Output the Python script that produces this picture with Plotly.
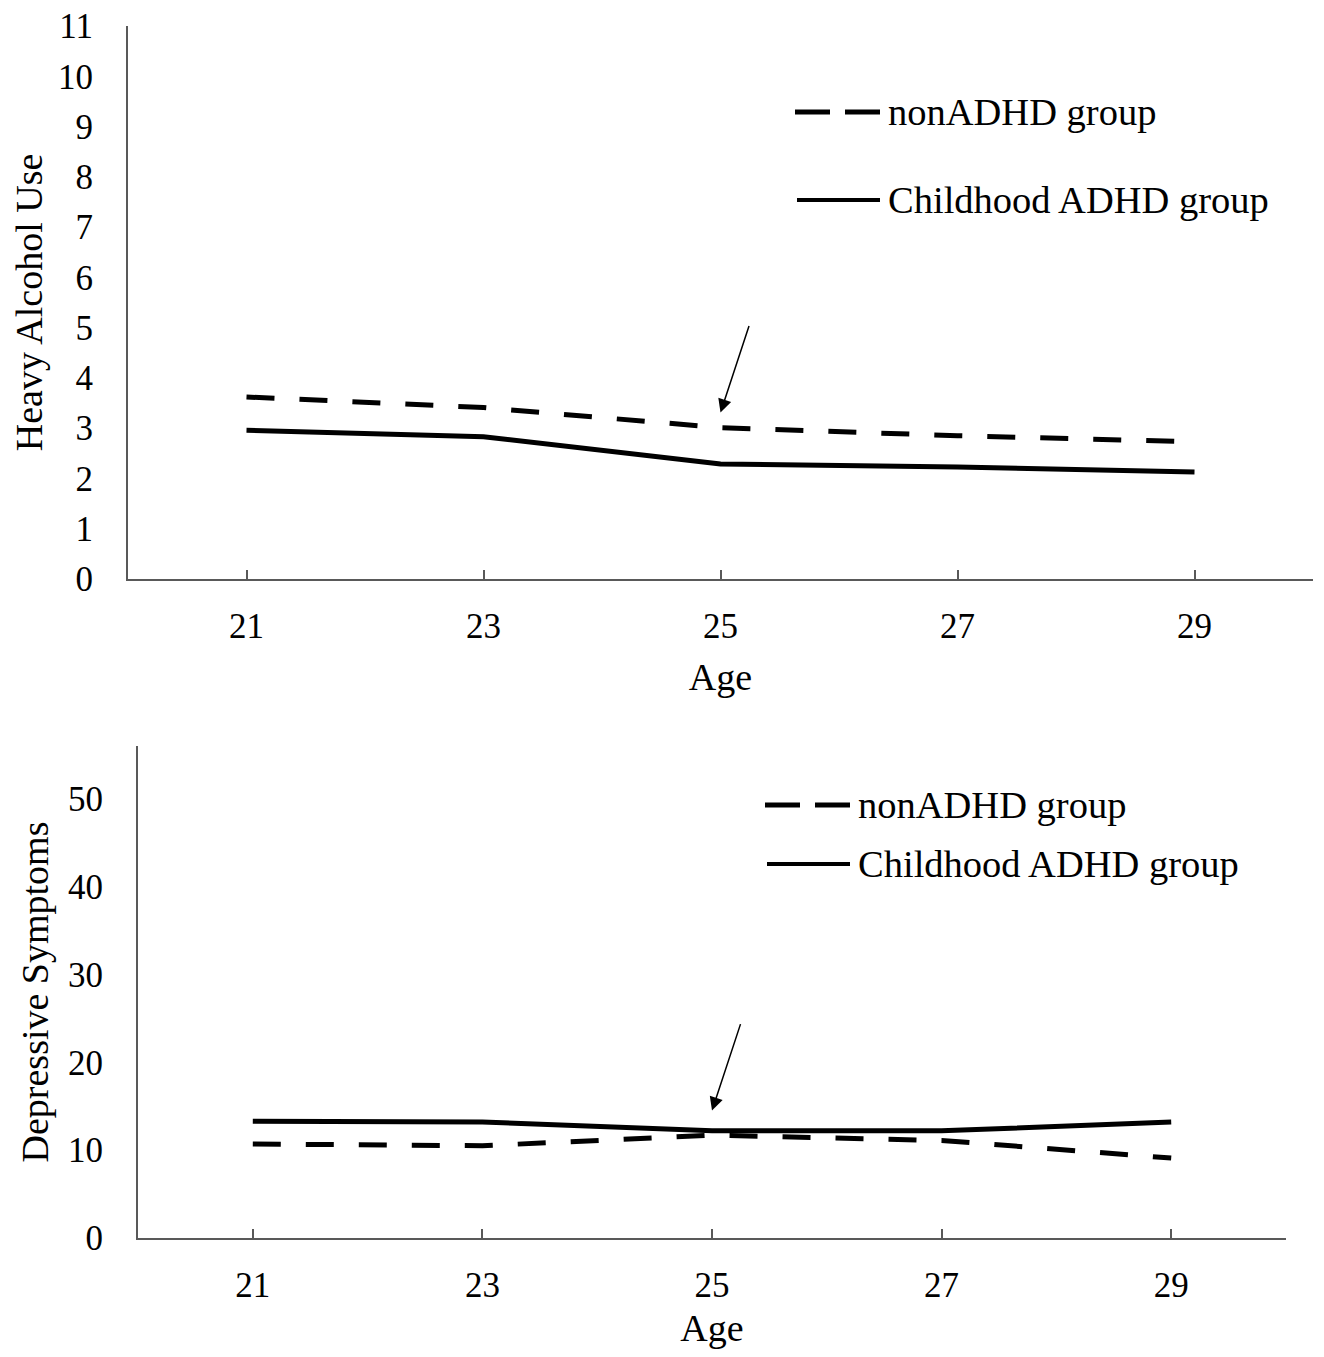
import plotly.graph_objects as go

# ---------------- data ----------------
ages = [21, 23, 25, 27, 29]
alcohol_non = [3.62, 3.41, 3.01, 2.85, 2.73]
alcohol_adhd = [2.96, 2.83, 2.29, 2.23, 2.13]
dep_non = [10.7, 10.5, 11.7, 11.1, 9.1]
dep_adhd = [13.3, 13.2, 12.2, 12.2, 13.2]

x_tickvals = [21, 23, 25, 27, 29, 30]
x_ticktext = ["21", "23", "25", "27", "29", ""]
alcohol_ticks = list(range(0, 12))
dep_ticks = [0, 10, 20, 30, 40, 50]
legend_labels = ["nonADHD group", "Childhood ADHD group"]

# arrow heads (x in age, y in axis units)
arrow_top = (25.0, 3.31)
arrow_bot = (25.0, 14.5)

FONT = "Liberation Serif, Times New Roman, serif"
AXC = "#595959"
PAGE_MARGIN = 8              # default body margin of the html page
W, H = 1324 - 2 * PAGE_MARGIN, 1357 - 2 * PAGE_MARGIN
TITLE_SIZE = 38
LEG_SIZE = 38.5

fig = go.Figure()
dash = "28px,25px"
fig.add_trace(go.Scatter(x=ages, y=alcohol_non, mode="lines", name=legend_labels[0],
                         line=dict(color="black", width=5, dash=dash), xaxis="x", yaxis="y",
                         showlegend=False))
fig.add_trace(go.Scatter(x=ages, y=alcohol_adhd, mode="lines", name=legend_labels[1],
                         line=dict(color="black", width=5), xaxis="x", yaxis="y",
                         showlegend=False))
fig.add_trace(go.Scatter(x=ages, y=dep_non, mode="lines", name=legend_labels[0],
                         line=dict(color="black", width=5, dash=dash), xaxis="x2", yaxis="y2",
                         showlegend=False))
fig.add_trace(go.Scatter(x=ages, y=dep_adhd, mode="lines", name=legend_labels[1],
                         line=dict(color="black", width=5), xaxis="x2", yaxis="y2",
                         showlegend=False))


def px_x(p):
    return (p - PAGE_MARGIN) / W


def px_y(p):
    return 1 - (p - PAGE_MARGIN) / H


common_x = dict(range=[20, 30], tickvals=x_tickvals, ticktext=x_ticktext, ticks="inside",
                ticklen=9, tickwidth=1.5, tickcolor=AXC, showline=True, linecolor=AXC,
                linewidth=2, showgrid=False, zeroline=False, automargin=False,
                ticklabeloverflow="allow",
                tickfont=dict(family=FONT, size=35, color="black"),
                ticklabelstandoff=15,
                title=dict(text="Age", font=dict(family=FONT, size=TITLE_SIZE, color="black"),
                           standoff=18))

common_y = dict(ticks="", showline=True, linecolor=AXC, linewidth=2, showgrid=False,
                zeroline=False, automargin=False, ticklabeloverflow="allow",
                tickfont=dict(family=FONT, size=35, color="black"), ticklabelstandoff=26)

fig.update_layout(
    width=W, height=H,
    margin=dict(l=0, r=0, t=0, b=0),
    paper_bgcolor="white", plot_bgcolor="white",
    showlegend=False,
    xaxis=dict(domain=[px_x(128), px_x(1313)], anchor="y", **common_x),
    yaxis=dict(domain=[px_y(579), px_y(26)], anchor="x", range=[0, 11], tickvals=alcohol_ticks,
               title=dict(text="Heavy Alcohol Use",
                          font=dict(family=FONT, size=TITLE_SIZE, color="black"), standoff=12),
               **common_y),
    xaxis2=dict(domain=[px_x(138), px_x(1286)], anchor="y2", **common_x),
    yaxis2=dict(domain=[px_y(1238), px_y(746)], anchor="x2", range=[0, 56], tickvals=dep_ticks,
                title=dict(text="Depressive Symptoms",
                           font=dict(family=FONT, size=TITLE_SIZE, color="black"), standoff=8),
                **common_y),
)

# arrows
for (ax_, ay_), xr, yr in [(arrow_top, "x", "y"), (arrow_bot, "x2", "y2")]:
    fig.add_annotation(x=ax_, y=ay_, xref=xr, yref=yr, text="", showarrow=True,
                       ax=29, ay=-88, arrowhead=2, arrowsize=1.8, arrowwidth=1.5,
                       arrowcolor="black")

# manual legends (long line samples as in the original)
legend_specs = [
    # (sample x0, x1, text x, y_dash, y_solid)
    (795, 880, 886, 112, 200),
    (765, 850, 856, 805, 864),
]
for x0, x1, tx, yd, ys in legend_specs:
    fig.add_shape(type="line", xref="paper", yref="paper", x0=px_x(x0), x1=px_x(x1),
                  y0=px_y(yd), y1=px_y(yd), line=dict(color="black", width=5, dash="35px,15px"))
    fig.add_shape(type="line", xref="paper", yref="paper", x0=px_x(x0 + 2), x1=px_x(x1),
                  y0=px_y(ys), y1=px_y(ys), line=dict(color="black", width=4))
    for lbl, yy in zip(legend_labels, [yd, ys]):
        fig.add_annotation(x=px_x(tx), y=px_y(yy), xref="paper", yref="paper", text=lbl,
                           showarrow=False, xanchor="left", yanchor="middle",
                           font=dict(family=FONT, size=LEG_SIZE, color="black"))

fig.write_html("out.html")
